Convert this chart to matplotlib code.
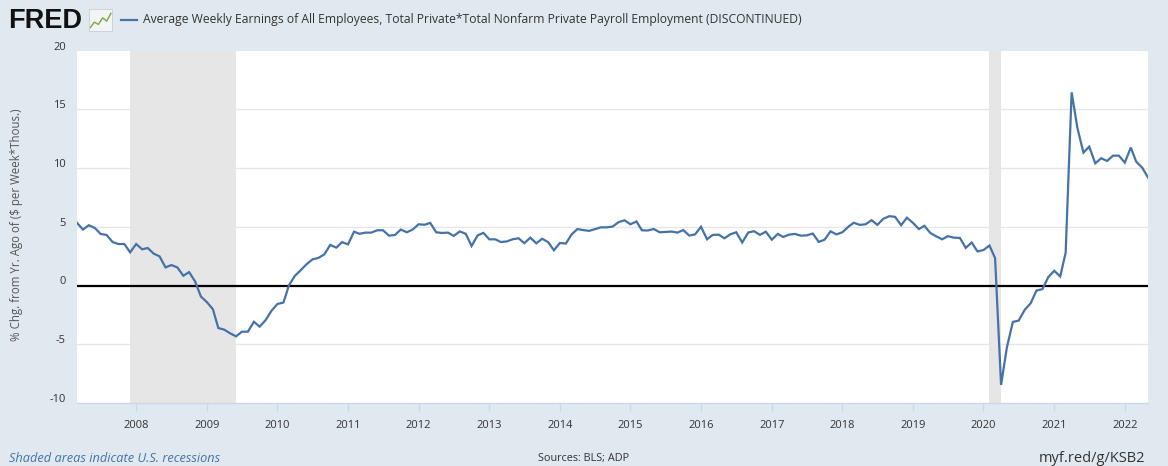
import matplotlib
matplotlib.use("Agg")
import matplotlib.pyplot as plt
import matplotlib.transforms as mtransforms
from matplotlib import font_manager
import pandas as pd
import numpy as np

# ---------------- data ----------------
start_month = "2007-03-01"
values = [
    5.33, 4.76, 5.13, 4.90, 4.39, 4.30, 3.70, 3.53, 3.53, 2.82,          # 2007 Mar-Dec
    3.53, 3.08, 3.19, 2.71, 2.48, 1.54, 1.74, 1.54, 0.83, 1.14, 0.34, -0.94,  # 2008
    -1.42, -2.02, -3.62, -3.76, -4.07, -4.33, -3.93, -3.93, -3.09, -3.50, -2.94, -2.15,  # 2009
    -1.57, -1.45, 0.00, 0.82, 1.30, 1.82, 2.22, 2.35, 2.66, 3.46, 3.22, 3.69,  # 2010
    3.50, 4.58, 4.40, 4.50, 4.50, 4.70, 4.70, 4.24, 4.30, 4.76, 4.53, 4.76,    # 2011
    5.21, 5.17, 5.33, 4.53, 4.47, 4.50, 4.22, 4.60, 4.40, 3.36, 4.26, 4.48,    # 2012
    3.93, 3.93, 3.70, 3.75, 3.93, 4.02, 3.60, 4.07, 3.59, 3.98, 3.69, 3.00,    # 2013
    3.62, 3.57, 4.32, 4.80, 4.72, 4.65, 4.80, 4.95, 4.95, 5.02, 5.40, 5.55,    # 2014
    5.21, 5.45, 4.70, 4.68, 4.81, 4.53, 4.56, 4.59, 4.50, 4.72, 4.25, 4.35,    # 2015
    5.00, 3.93, 4.30, 4.33, 4.02, 4.36, 4.53, 3.66, 4.51, 4.62, 4.31, 4.58,    # 2016
    3.90, 4.39, 4.13, 4.33, 4.39, 4.24, 4.27, 4.42, 3.71, 3.90, 4.61, 4.35,    # 2017
    4.53, 5.00, 5.34, 5.16, 5.21, 5.56, 5.16, 5.68, 5.90, 5.84, 5.13, 5.77,    # 2018
    5.33, 4.80, 5.08, 4.47, 4.19, 3.93, 4.20, 4.07, 4.05, 3.20, 3.66, 2.90,    # 2019
    3.02, 3.40, 2.33, -8.46, -5.27, -3.10, -2.99, -2.08, -1.51, -0.43, -0.31, 0.71,  # 2020
    1.25, 0.77, 2.79, 16.44, 13.39, 11.31, 11.82, 10.40, 10.83, 10.60, 11.05, 11.05,  # 2021
    10.46, 11.74, 10.54, 10.03, 9.20,                                          # 2022 Jan-May
]
recession_starts = ["2007-12-01", "2020-02-01"]
recession_ends = ["2009-06-01", "2020-04-01"]
y_ticks = [-10, -5, 0, 5, 10, 15, 20]
x_tick_years = list(range(2008, 2023))

title_text = ("Average Weekly Earnings of All Employees, Total Private*Total Nonfarm "
              "Private Payroll Employment (DISCONTINUED)")
y_label = "% Chg. from Yr. Ago of ($ per Week*Thous.)"
source_text = "Sources: BLS; ADP"
link_text = "myf.red/g/KSB2"
recession_note = "Shaded areas indicate U.S. recessions"
icon_line = [0.15, 0.4, 0.3, 0.6, 0.45, 0.8]

dates = pd.date_range(start_month, periods=len(values), freq="MS")

# ---------------- fonts ----------------
names = {f.name for f in font_manager.fontManager.ttflist}
FONT = "Liberation Sans Narrow" if "Liberation Sans Narrow" in names else "Open Sans"
plt.rcParams["font.family"] = [FONT, "DejaVu Sans"]

BG = "#e1e9f0"
LINE = "#4572a7"

W, H = 1168, 466
fig = plt.figure(figsize=(W / 100, H / 100), dpi=100)
fig.patch.set_facecolor(BG)

L, R, T, B = 77, 1148, 50.5, 403
ax = fig.add_axes([L / W, 1 - B / H, (R - L) / W, (B - T) / H])
ax.set_facecolor("white")

for s, e in zip(recession_starts, recession_ends):
    ax.axvspan(pd.Timestamp(s), pd.Timestamp(e), color="#e6e6e6", lw=0, zorder=0)

for yt in y_ticks:
    if yt not in (0, -10, 20):
        ax.axhline(yt, color="#e6e6e6", lw=1, zorder=1)
ax.axhline(0, color="black", lw=1.6, zorder=2)

ax.plot(dates, values, color=LINE, lw=1.6, zorder=3, solid_joinstyle="miter")

ax.set_xlim(dates[0], dates[-1])
ax.set_ylim(-10, 20)
ax.set_yticks(y_ticks)
ax.set_yticklabels([str(v) for v in y_ticks])
ax.set_xticks([pd.Timestamp(f"{y}-01-01") for y in x_tick_years])
ax.set_xticklabels([str(y) for y in x_tick_years])

for sp in ["top", "right", "left"]:
    ax.spines[sp].set_visible(False)
ax.spines["bottom"].set_color("#ccd6eb")
ax.spines["bottom"].set_linewidth(1)

ax.tick_params(axis="y", length=0, pad=8, labelsize=8, labelcolor="#333333")
ax.tick_params(axis="x", length=6, width=1, color="#ccd6eb", pad=6,
               labelsize=8, labelcolor="#333333")
# FRED puts y labels slightly above their gridlines
off = mtransforms.ScaledTranslation(0, 5 / 100, fig.dpi_scale_trans)
for lab in ax.get_yticklabels():
    lab.set_transform(lab.get_transform() + off)

fig.text(17 / W, 1 - 225 / H, y_label, rotation=90, ha="center", va="center",
         fontsize=8.3, color="#555555")

# ---------------- header ----------------
fig.text(8 / W, 1 - 21 / H, "FRED", fontsize=19.5, fontweight="bold", color="#111111",
         ha="left", va="center", family=["Liberation Sans", "DejaVu Sans"])
iax = fig.add_axes([89 / W, 1 - 31 / H, 23 / W, 22 / H])
iax.set_facecolor("#f2f4f6")
iax.plot(np.linspace(0.05, 0.95, len(icon_line)), icon_line, color="#7aa93c", lw=1)
iax.set_xlim(0, 1)
iax.set_ylim(0, 1)
iax.set_xticks([])
iax.set_yticks([])
for sp in iax.spines.values():
    sp.set_color("#c8d0d8")
    sp.set_linewidth(0.6)

fig.add_artist(plt.Line2D([121 / W, 137 / W], [1 - 20 / H, 1 - 20 / H],
                          color=LINE, lw=1.6))
fig.text(143 / W, 1 - 20 / H, title_text, fontsize=8.7, color="#333333",
         ha="left", va="center")

# ---------------- footer ----------------
fig.text(9 / W, 1 - 459 / H, recession_note, fontsize=9.2, color="#4572a7",
         style="italic", ha="left", va="center")
fig.text(584 / W, 1 - 458 / H, source_text, fontsize=7.8, color="#333333",
         ha="center", va="center")
fig.text(1145 / W, 1 - 458 / H, link_text, fontsize=10.5, color="#333333",
         ha="right", va="center")

fig.savefig("out.png", dpi=100, facecolor=BG)
